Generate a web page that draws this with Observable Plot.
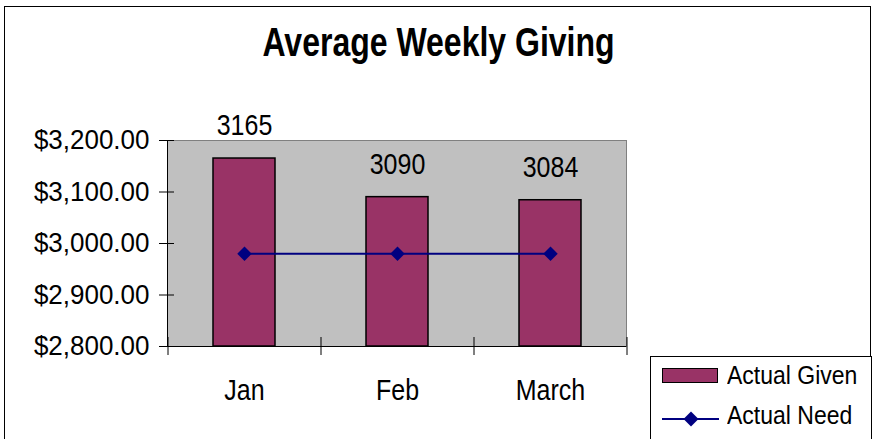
<!DOCTYPE html>
<html>
<head>
<meta charset="utf-8">
<script src="https://cdn.jsdelivr.net/npm/d3@7"></script>
<script src="https://cdn.jsdelivr.net/npm/@observablehq/plot@0.6"></script>
<style>
  html, body { margin: 0; padding: 0; background: #fff; }
  body { width: 877px; height: 439px; position: relative; overflow: hidden; font-family: "Liberation Sans", Arial, sans-serif; }
  #outer { position: absolute; left: 4px; top: 6px; width: 867px; height: 460px; border: 1.5px solid #000; box-sizing: border-box; }
  #title { position: absolute; left: 0; width: 877px; top: 25px; text-align: center; font-weight: bold; font-size: 32px; line-height: 34px; color: #000; transform: scaleY(1.25); transform-origin: center; }
  #chart { position: absolute; left: 0; top: 0; }
  #legend { position: absolute; left: 650px; top: 356px; width: 222px; height: 100px; border: 1.5px solid #000; box-sizing: border-box; background: #fff; }
  .item { position: absolute; left: 11px; height: 26px; display: flex; align-items: center; font-size: 23px; color: #000; }
  .item span { display: inline-block; transform: scaleY(1.15); transform-origin: center; }
  .swatch { width: 56px; height: 15px; background: #993366; border: 1.5px solid #000; box-sizing: border-box; margin-right: 9px; }
</style>
</head>
<body>
<div id="outer"></div>
<div id="chart"></div>
<div id="title">Average Weekly Giving</div>
<div id="legend">
  <div class="item" style="top:5px"><div class="swatch"></div><span>Actual Given</span></div>
  <div class="item" style="top:45px"><svg width="57" height="26" style="margin-right:8px"><line x1="0" x2="57" y1="17" y2="17" stroke="#000080" stroke-width="2"/><path d="M29,9.5 L36.5,17 L29,24.5 L21.5,17 Z" fill="#000080"/></svg><span>Actual Need</span></div>
</div>
<script>
const months = ["Jan", "Feb", "March"];
const actualGiven = [3165, 3090, 3084];
const actualNeed = [2980, 2980, 2980];
const yTicks = [2800, 2900, 3000, 3100, 3200];
const yDomain = [2800, 3200];

const data = months.map((m, i) => ({month: m, given: actualGiven[i], need: actualNeed[i]}));

const chart = Plot.plot({
  width: 877,
  height: 439,
  marginLeft: 167,
  marginRight: 251,
  marginTop: 140,
  marginBottom: 93,
  style: {fontFamily: "'Liberation Sans', Arial, sans-serif", background: "transparent", color: "#000"},
  x: {domain: months, paddingInner: 0.595, paddingOuter: 0.2975},
  y: {domain: yDomain},
  marks: [
    Plot.frame({fill: "#c0c0c0", stroke: "#808080"}),
    Plot.barY(data, {x: "month", y1: yDomain[0], y2: "given", fill: "#993366", stroke: "#000", strokeWidth: 1.5}),
    Plot.frame({anchor: "left", stroke: "#000"}),
    Plot.ruleY([yDomain[0]], {stroke: "#000"}),
    Plot.line(data, {x: "month", y: "need", stroke: "#000080", strokeWidth: 2}),
    Plot.dot(data, {x: "month", y: "need", symbol: "diamond2", r: 6.5, fill: "#000080", stroke: "none"}),
    Plot.text(data, {x: "month", y: "given", text: d => String(d.given), dy: -33, fontSize: 25, fill: "#000"}),
    Plot.axisY(yTicks, {tickSize: 15, dx: 7, tickPadding: 10, tickFormat: d3.format("$,.2f"), fontSize: 26, label: null, stroke: "#000"}),
    Plot.axisX({tickSize: 0, tickPadding: 34, fontSize: 25, label: null}),
    Plot.ruleX(months, {x: d => d, dx: -76.5, y1: yDomain[0], y2: yDomain[0], insetTop: -9, insetBottom: -9, stroke: "#000"}),
    Plot.ruleX([months[months.length - 1]], {x: d => d, dx: 76.5, y1: yDomain[0], y2: yDomain[0], insetTop: -9, insetBottom: -9, stroke: "#000"})
  ]
});
document.getElementById("chart").appendChild(chart);

// Stretch the SVG texts vertically around their own centre, like the reference's tall glyphs.
d3.select(chart).selectAll("text").each(function () {
  const inYAxis = this.closest('g[aria-label="y-axis tick label"]') !== null;
  const s = inYAxis ? 1.03 : 1.15;
  const b = this.getBBox();
  const cy = b.y + b.height / 2;
  const prev = this.getAttribute("transform") || "";
  this.setAttribute("transform", `${prev} translate(0,${cy}) scale(1,${s}) translate(0,${-cy})`.trim());
});
</script>
</body>
</html>
